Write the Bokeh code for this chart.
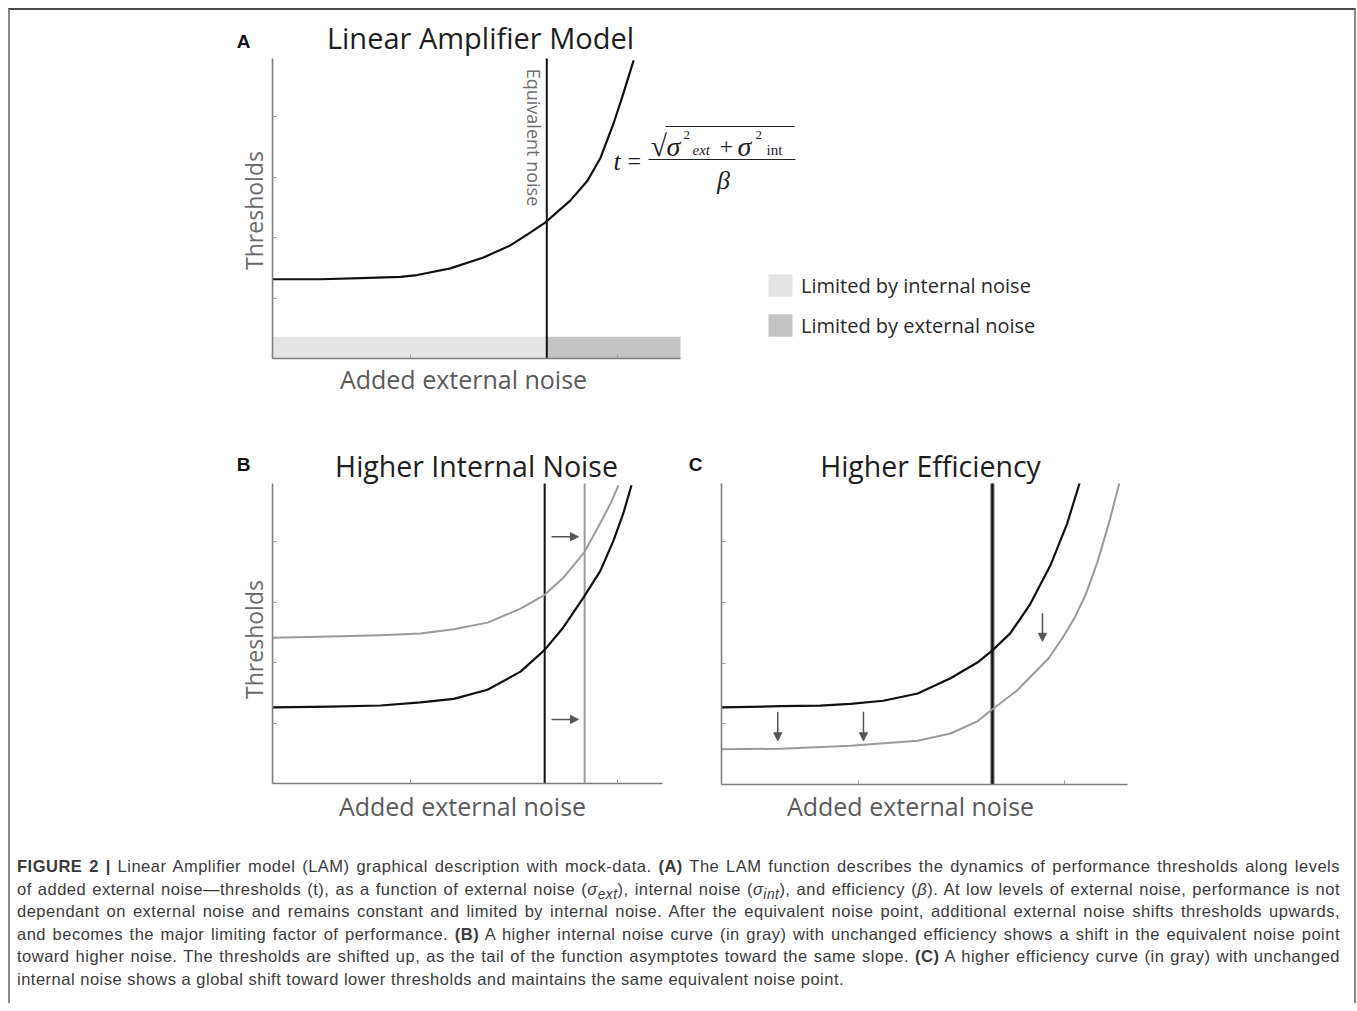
import math
from bokeh.plotting import figure
from bokeh.layouts import row, column
from bokeh.models import (Spacer, Div, Label, Arrow, NormalHead, Legend, LegendItem,
                          FixedTicker, Range1d, ColumnDataSource)
from bokeh.embed import file_html
from bokeh.resources import INLINE

# ---------------- data ----------------
X_TICKS = [2, 5]
Y_TICKS = [1, 2, 3, 4]

# Panel A: Linear Amplifier Model
A_x = [0.0, 0.70, 1.28, 1.86, 2.10, 2.58, 3.06, 3.45, 3.74, 3.96, 4.32, 4.57, 4.76, 4.95, 5.09, 5.24]
A_y = [1.31, 1.31, 1.33, 1.35, 1.38, 1.49, 1.67, 1.87, 2.08, 2.25, 2.61, 2.94, 3.32, 3.89, 4.38, 4.93]
A_equiv = 3.98
A_band_left = [0.0, 3.98]
A_band_right = [3.98, 5.92]
A_band_top = [0.36, 0.36]
A_band_labels = ["Limited by internal noise", "Limited by external noise"]

# Panel B: Higher Internal Noise
B_black_x = [0.0, 0.84, 1.57, 2.15, 2.63, 3.12, 3.60, 3.95, 4.22, 4.51, 4.76, 4.95, 5.09, 5.21]
B_black_y = [1.26, 1.27, 1.29, 1.34, 1.40, 1.55, 1.85, 2.21, 2.58, 3.07, 3.52, 4.02, 4.46, 4.93]
B_gray_x = [0.0, 0.84, 1.57, 2.15, 2.63, 3.12, 3.60, 3.95, 4.22, 4.53, 4.76, 4.91, 5.02]
B_gray_y = [2.41, 2.43, 2.45, 2.48, 2.55, 2.66, 2.89, 3.12, 3.40, 3.83, 4.31, 4.64, 4.93]
B_equiv_black = 3.95
B_equiv_gray = 4.53
B_arrow_x0 = [4.05, 4.05]
B_arrow_x1 = [4.44, 4.44]
B_arrow_y = [4.08, 1.06]

# Panel C: Higher Efficiency
C_black_x = [0.0, 0.86, 1.44, 1.88, 2.36, 2.86, 3.34, 3.73, 3.95, 4.21, 4.50, 4.80, 5.04, 5.22]
C_black_y = [1.27, 1.29, 1.30, 1.33, 1.38, 1.50, 1.75, 2.01, 2.21, 2.49, 2.97, 3.62, 4.30, 4.96]
C_gray_x = [0.0, 0.86, 1.88, 2.86, 3.34, 3.73, 3.95, 4.31, 4.77, 4.97, 5.15, 5.31, 5.48, 5.64, 5.80]
C_gray_y = [0.58, 0.59, 0.64, 0.72, 0.84, 1.04, 1.24, 1.55, 2.08, 2.41, 2.75, 3.13, 3.66, 4.27, 4.96]
C_equiv = 3.95
C_arrow_x = [0.82, 2.07, 4.68]
C_arrow_y0 = [1.20, 1.20, 2.82]
C_arrow_y1 = [0.72, 0.72, 2.36]

# ---------------- styling ----------------
TITLE_FONT = "Open Sans"
AXIS_COLOR = "#7d7d7d"
LABEL_COLOR = "#5a5a5a"
BLACK = "#111111"
GRAY = "#9b9b9b"
ARROW_COLOR = "#555555"


def make_panel(box_left, box_top, box_right, box_bottom, f_left, f_top, f_w, f_h, xmax, ymax):
    """Figure whose plotting frame covers its whole box; the axes sit at x=0 / y=0."""
    sx = f_w / xmax
    sy = f_h / ymax
    f_bottom = f_top + f_h
    xr = Range1d((box_left - f_left) / sx, (box_right - f_left) / sx)
    yr = Range1d((f_bottom - box_bottom) / sy, (f_bottom - box_top) / sy)
    p = figure(frame_width=box_right - box_left, frame_height=box_bottom - box_top,
               min_border=0, min_border_left=0, min_border_right=0,
               min_border_top=0, min_border_bottom=0,
               x_range=xr, y_range=yr, output_backend="svg",
               toolbar_location=None, tools="")
    p.title.visible = False
    p.xgrid.visible = False
    p.ygrid.visible = False
    p.outline_line_color = None
    p.background_fill_color = "white"
    p.border_fill_color = "white"
    for ax, ticks, bnd in ((p.xaxis, X_TICKS, (0, xmax)), (p.yaxis, Y_TICKS, (0, ymax))):
        ax.fixed_location = 0
        ax.bounds = bnd
        ax.ticker = FixedTicker(ticks=ticks)
        ax.axis_line_color = AXIS_COLOR
        ax.axis_line_width = 1.6
        ax.major_tick_in = 4
        ax.major_tick_out = 0
        ax.major_tick_line_color = "#9a9a9a"
        ax.major_tick_line_width = 1
        ax.minor_tick_line_color = None
        ax.major_label_text_font_size = "0px"
        ax.major_label_text_color = None
    fx = lambda px: (px - f_left) / sx
    fy = lambda py: (f_bottom - py) / sy
    return p, fx, fy


def lab(p, x, y, text, size, color="#1e1e1e", font=TITLE_FONT, style="normal",
        angle=0.0, align="center", baseline="middle"):
    p.add_layout(Label(x=x, y=y, text=text, text_font=font, text_font_size=f"{size}px",
                       text_color=color, text_font_style=style, angle=angle,
                       text_align=align, text_baseline=baseline))


def bar(p, x0, x1, y, width=1.2, color="#222"):
    p.add_layout(Arrow(start=None, end=None, x_start=x0, y_start=y, x_end=x1, y_end=y,
                       line_color=color, line_width=width))


# ---------------- Panel A ----------------
A_YMAX = 4.96
pA, ax_, ay_ = make_panel(226, 10, 1060, 400, 272, 58, 408, 300, 5.92, A_YMAX)
src_int = ColumnDataSource(dict(left=A_band_left[:1], right=A_band_right[:1], top=A_band_top[:1]))
src_ext = ColumnDataSource(dict(left=A_band_left[1:], right=A_band_right[1:], top=A_band_top[1:]))
r_int = pA.quad(left="left", right="right", bottom=0, top="top", source=src_int,
                fill_color="#e4e4e4", line_color=None)
r_ext = pA.quad(left="left", right="right", bottom=0, top="top", source=src_ext,
                fill_color="#c3c3c3", line_color=None)
pA.segment(x0=[A_equiv], y0=[0], x1=[A_equiv], y1=[A_YMAX], line_color=BLACK, line_width=2)
pA.line(A_x, A_y, line_color=BLACK, line_width=2.2, line_join="round")

legend = Legend(items=[LegendItem(label=A_band_labels[0], renderers=[r_int]),
                       LegendItem(label=A_band_labels[1], renderers=[r_ext])],
                location=(539, 61), orientation="vertical",
                glyph_width=30, glyph_height=28, label_height=28, label_standoff=6,
                spacing=12, padding=0, margin=0, border_line_color=None,
                background_fill_alpha=0, label_text_font=TITLE_FONT,
                label_text_font_size="20px", label_text_color="#2a2a2a")
pA.add_layout(legend)

lab(pA, ax_(243), ay_(41), "A", 19, color="#111", font="Liberation Sans", style="bold")
lab(pA, ax_(480), ay_(37), "Linear Amplifier Model", 29)
lab(pA, ax_(253), ay_(210), "Thresholds", 23, color="#6a6a6a", angle=math.pi / 2)
lab(pA, ax_(463), ay_(378), "Added external noise", 25, color=LABEL_COLOR)
lab(pA, ax_(533), ay_(137), "Equivalent noise", 18, color="#6e6e6e", angle=-math.pi / 2)

# formula  t = sqrt(sigma^2_ext + sigma^2_int) / beta
SERIF = "Liberation Serif"
lab(pA, ax_(613), ay_(161), "t", 26, font=SERIF, style="italic", align="left")
lab(pA, ax_(627), ay_(160), "=", 24, font=SERIF, align="left")
lab(pA, ax_(650), ay_(145), "\u221a", 30, font=SERIF, align="left")
bar(pA, ax_(665), ax_(794), ay_(126))
lab(pA, ax_(666), ay_(146), "\u03c3", 28, font=SERIF, style="italic", align="left")
lab(pA, ax_(683), ay_(134), "2", 13, font=SERIF, align="left")
lab(pA, ax_(692), ay_(149), "ext", 15, font=SERIF, style="italic", align="left")
lab(pA, ax_(719), ay_(146), "+", 24, font=SERIF, align="left")
lab(pA, ax_(737), ay_(146), "\u03c3", 28, font=SERIF, style="italic", align="left")
lab(pA, ax_(755), ay_(134), "2", 13, font=SERIF, align="left")
lab(pA, ax_(766), ay_(149), "int", 15, font=SERIF, align="left")
bar(pA, ax_(648), ax_(795), ay_(159))
lab(pA, ax_(723), ay_(180), "\u03b2", 26, font=SERIF, style="italic")

# ---------------- Panel B ----------------
B_YMAX = 4.96
pB, bx_, by_ = make_panel(226, 400, 680, 830, 272, 483, 390, 300, 5.66, B_YMAX)
pB.segment(x0=[B_equiv_gray], y0=[0], x1=[B_equiv_gray], y1=[B_YMAX], line_color=GRAY, line_width=2)
pB.segment(x0=[B_equiv_black], y0=[0], x1=[B_equiv_black], y1=[B_YMAX], line_color=BLACK, line_width=2)
pB.line(B_gray_x, B_gray_y, line_color=GRAY, line_width=2, line_join="round")
pB.line(B_black_x, B_black_y, line_color=BLACK, line_width=2.2, line_join="round")
for x0, x1, y in zip(B_arrow_x0, B_arrow_x1, B_arrow_y):
    pB.add_layout(Arrow(end=NormalHead(size=8, fill_color=ARROW_COLOR, line_color=ARROW_COLOR),
                        x_start=x0, y_start=y, x_end=x1, y_end=y,
                        line_color=ARROW_COLOR, line_width=1.5))
lab(pB, bx_(243), by_(464), "B", 19, color="#111", font="Liberation Sans", style="bold")
lab(pB, bx_(476), by_(465), "Higher Internal Noise", 28.5)
lab(pB, bx_(253), by_(639), "Thresholds", 23, color="#6a6a6a", angle=math.pi / 2)
lab(pB, bx_(462), by_(805), "Added external noise", 25, color=LABEL_COLOR)

# ---------------- Panel C ----------------
C_YMAX = 4.96
pC, cx_, cy_ = make_panel(680, 400, 1157, 830, 721, 483, 406, 301, 5.92, C_YMAX)
pC.segment(x0=[C_equiv], y0=[0], x1=[C_equiv], y1=[C_YMAX], line_color="#8a8a8a", line_width=4.5)
pC.segment(x0=[C_equiv], y0=[0], x1=[C_equiv], y1=[C_YMAX], line_color=BLACK, line_width=2.2)
pC.line(C_gray_x, C_gray_y, line_color=GRAY, line_width=2, line_join="round")
pC.line(C_black_x, C_black_y, line_color=BLACK, line_width=2.2, line_join="round")
for x, y0, y1 in zip(C_arrow_x, C_arrow_y0, C_arrow_y1):
    pC.add_layout(Arrow(end=NormalHead(size=8, fill_color=ARROW_COLOR, line_color=ARROW_COLOR),
                        x_start=x, y_start=y0, x_end=x, y_end=y1,
                        line_color=ARROW_COLOR, line_width=1.5))
lab(pC, cx_(695), cy_(464), "C", 19, color="#111", font="Liberation Sans", style="bold")
lab(pC, cx_(930), cy_(465), "Higher Efficiency", 28.5)
lab(pC, cx_(910), cy_(805), "Added external noise", 25, color=LABEL_COLOR)

# ---------------- caption ----------------
CAPTION_LINES = [
    "<b>FIGURE 2 |</b> Linear Amplifier model (LAM) graphical description with mock-data. <b>(A)</b> The LAM function describes the dynamics of performance thresholds along levels",
    "of added external noise\u2014thresholds (t), as a function of external noise (<i>\u03c3<sub>ext</sub></i>), internal noise (<i>\u03c3<sub>int</sub></i>), and efficiency (<i>\u03b2</i>). At low levels of external noise, performance is not",
    "dependant on external noise and remains constant and limited by internal noise. After the equivalent noise point, additional external noise shifts thresholds upwards,",
    "and becomes the major limiting factor of performance. <b>(B)</b> A higher internal noise curve (in gray) with unchanged efficiency shows a shift in the equivalent noise point",
    "toward higher noise. The thresholds are shifted up, as the tail of the function asymptotes toward the same slope. <b>(C)</b> A higher efficiency curve (in gray) with unchanged",
    "internal noise shows a global shift toward lower thresholds and maintains the same equivalent noise point.",
]
line_divs = []
for i, ln in enumerate(CAPTION_LINES):
    last = "justify" if i < len(CAPTION_LINES) - 1 else "left"
    line_divs.append(
        f'<div style="text-align: justify; text-align-last: {last}; white-space: nowrap; '
        f'height: 22.6px; line-height: 22.6px;">{ln}</div>')
caption_html = (
    '<div style="font-family: \'Liberation Sans\', Arimo, Arial, sans-serif; '
    'font-size: 16.5px; letter-spacing: 0.5px; color: #3a3a3a; padding: 20px 19px 0 2px; '
    'width: 1344px; box-sizing: border-box;">'
    + "".join(line_divs) + "</div>")
caption = Div(text=caption_html, width=1344, height=163)

top_row = row(Spacer(width=216, height=390), pA)
bottom_row = row(Spacer(width=216, height=430), pB, pC)
root = column(top_row, bottom_row, caption,
              styles={"border-top": "2px solid #4a4a4a", "border-left": "2px solid #8a8a8a",
                      "border-right": "2px solid #8a8a8a", "width": "1348px",
                      "margin-left": "8px", "margin-top": "8px"})

open("out.html", "w").write(file_html(root, INLINE))
